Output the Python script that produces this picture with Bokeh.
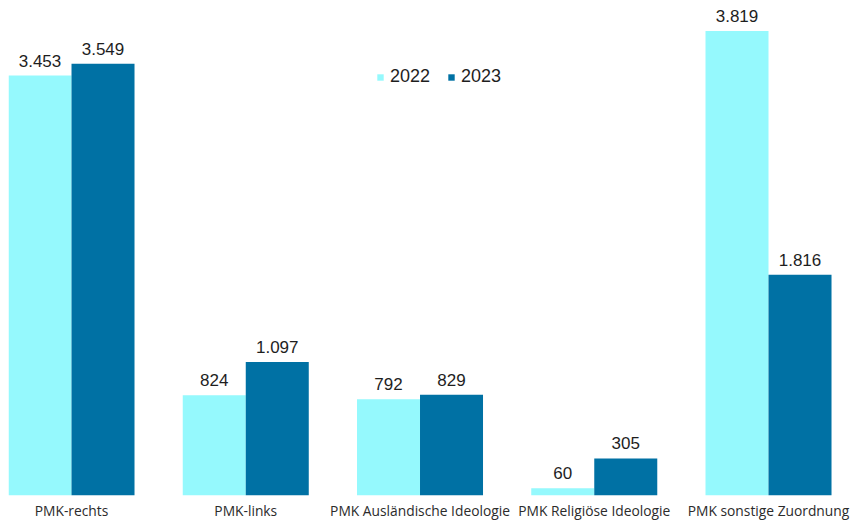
from bokeh.plotting import figure
from bokeh.models import ColumnDataSource, Range1d, FixedTicker, Legend, LegendItem
from bokeh.core.properties import value
from bokeh.transform import dodge
from bokeh.embed import file_html
from bokeh.resources import INLINE

categories = ["PMK-rechts", "PMK-links", "PMK Ausländische Ideologie",
              "PMK Religiöse Ideologie", "PMK sonstige Zuordnung"]
values_2022 = [3453, 824, 792, 60, 3819]
values_2023 = [3549, 1097, 829, 305, 1816]
years = ["2022", "2023"]

COL_22 = "#95f9fd"
COL_23 = "#0071a4"
BAR_W = 0.3616
W, H = 852, 522
LEFT = 8


def de(n):
    return f"{n:,}".replace(",", ".")


xs = list(range(len(categories)))
src = ColumnDataSource(dict(
    x=xs,
    v22=values_2022, v23=values_2023,
    l22=[de(v) for v in values_2022], l23=[de(v) for v in values_2023],
))

p = figure(width=W, height=H, output_backend="svg", toolbar_location=None,
           x_range=Range1d(-BAR_W, -BAR_W + (W - LEFT) / 174.25),
           y_range=Range1d(0, 4070),
           min_border_left=LEFT, min_border_right=0, min_border_top=0, min_border_bottom=0)

r22 = p.vbar(x=dodge("x", -BAR_W / 2), top="v22", width=BAR_W, source=src,
             fill_color=COL_22, line_color=None)
r23 = p.vbar(x=dodge("x", BAR_W / 2), top="v23", width=BAR_W, source=src,
             fill_color=COL_23, line_color=None)

for col, lab, off in (("v22", "l22", -BAR_W / 2), ("v23", "l23", BAR_W / 2)):
    p.text(x=dodge("x", off), y=col, text=lab, source=src, y_offset=-15,
           text_align="center", text_baseline="alphabetic",
           text_font=value("Liberation Sans"), text_font_size="17px",
           text_color="#1e1e1e")

p.xaxis.ticker = FixedTicker(ticks=xs)
p.xaxis.major_label_overrides = {i: c for i, c in zip(xs, categories)}
p.xaxis.axis_line_color = None
p.xaxis.major_tick_line_color = None
p.xaxis.minor_tick_line_color = None
p.xaxis.major_tick_out = 0
p.xaxis.major_tick_in = 0
p.xaxis.major_label_standoff = 5
p.xaxis.major_label_text_font = "Open Sans"
p.xaxis.major_label_text_font_size = "13.8px"
p.xaxis.major_label_text_color = "#2b2b2b"
p.yaxis.visible = False
p.grid.visible = False
p.outline_line_color = None

legend = Legend(items=[LegendItem(label=years[0], renderers=[r22]),
                       LegendItem(label=years[1], renderers=[r23])],
                location=(368, 408), orientation="horizontal",
                glyph_width=8, glyph_height=8, label_height=20,
                label_standoff=6, spacing=17, padding=0, margin=0,
                border_line_color=None, background_fill_alpha=0,
                label_text_font="Liberation Sans", label_text_font_size="18px",
                label_text_color="#1e1e1e")
p.add_layout(legend, "center")

open("out.html", "w").write(file_html(p, INLINE))
